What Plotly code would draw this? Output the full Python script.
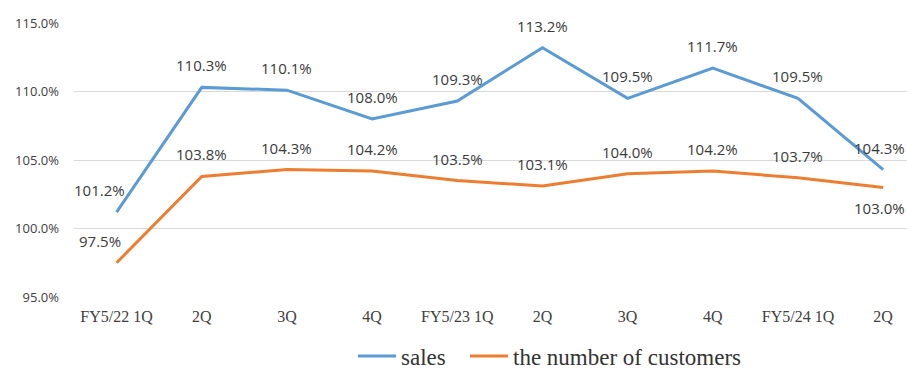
import plotly.graph_objects as go

quarters = ["FY5/22 1Q", "2Q", "3Q", "4Q", "FY5/23 1Q", "2Q", "3Q", "4Q", "FY5/24 1Q", "2Q"]
sales = [101.2, 110.3, 110.1, 108.0, 109.3, 113.2, 109.5, 111.7, 109.5, 104.3]
customers = [97.5, 103.8, 104.3, 104.2, 103.5, 103.1, 104.0, 104.2, 103.7, 103.0]
y_ticks = [95, 100, 105, 110, 115]

x = list(range(len(quarters)))
label_font = dict(family="Open Sans, sans-serif", size=15, color="#3a3a3a")
serif = "Liberation Serif, Times New Roman, serif"

fig = go.Figure()
fig.add_trace(go.Scatter(
    x=x, y=sales, name="sales", mode="lines",
    line=dict(color="#5B9BD5", width=3), legend="legend",
))
fig.add_trace(go.Scatter(
    x=x, y=customers, name="the number of customers", mode="lines",
    line=dict(color="#ED7D31", width=3), legend="legend2",
))

# value labels: above each point, except the final customers point which sits below
n = len(quarters)
for series, above in ((sales, [True] * n), (customers, [True] * (n - 1) + [False])):
    for i, v in enumerate(series):
        dx = -17 if i == 0 else (-4 if i == n - 1 else 0)
        fig.add_annotation(
            x=x[i], y=v, text=f"{v:.1f}%", showarrow=False,
            yshift=22 if above[i] else -21, xshift=dx,
            font=label_font,
        )

legend_style = dict(orientation="h", xref="container", yref="container",
                    xanchor="left", y=0.035, yanchor="middle",
                    font=dict(family=serif, size=23, color="#333333"),
                    itemwidth=38, bgcolor="rgba(0,0,0,0)")

fig.update_layout(
    width=907, height=369,
    margin=dict(l=74, r=0, t=23, b=72),
    paper_bgcolor="white", plot_bgcolor="white",
    showlegend=True,
    legend=dict(x=353 / 907, **legend_style),
    legend2=dict(x=465 / 907, **legend_style),
    xaxis=dict(range=[-0.5, 9.28], tickmode="array", tickvals=x, ticktext=quarters,
               showgrid=False, zeroline=False, showline=False, automargin=False,
               ticks="", ticklabelstandoff=8,
               tickfont=dict(family=serif, size=16, color="#404040")),
    yaxis=dict(range=[95, 115], tickvals=y_ticks, ticktext=[f"{v:.1f}%" for v in y_ticks],
               showgrid=True, gridcolor="#D9D9D9", gridwidth=1, zeroline=False, showline=False,
               ticks="", ticklabelstandoff=14, automargin=False,
               tickfont=dict(family="Open Sans, sans-serif", size=13, color="#404040")),
)

fig.write_html("out.html")
